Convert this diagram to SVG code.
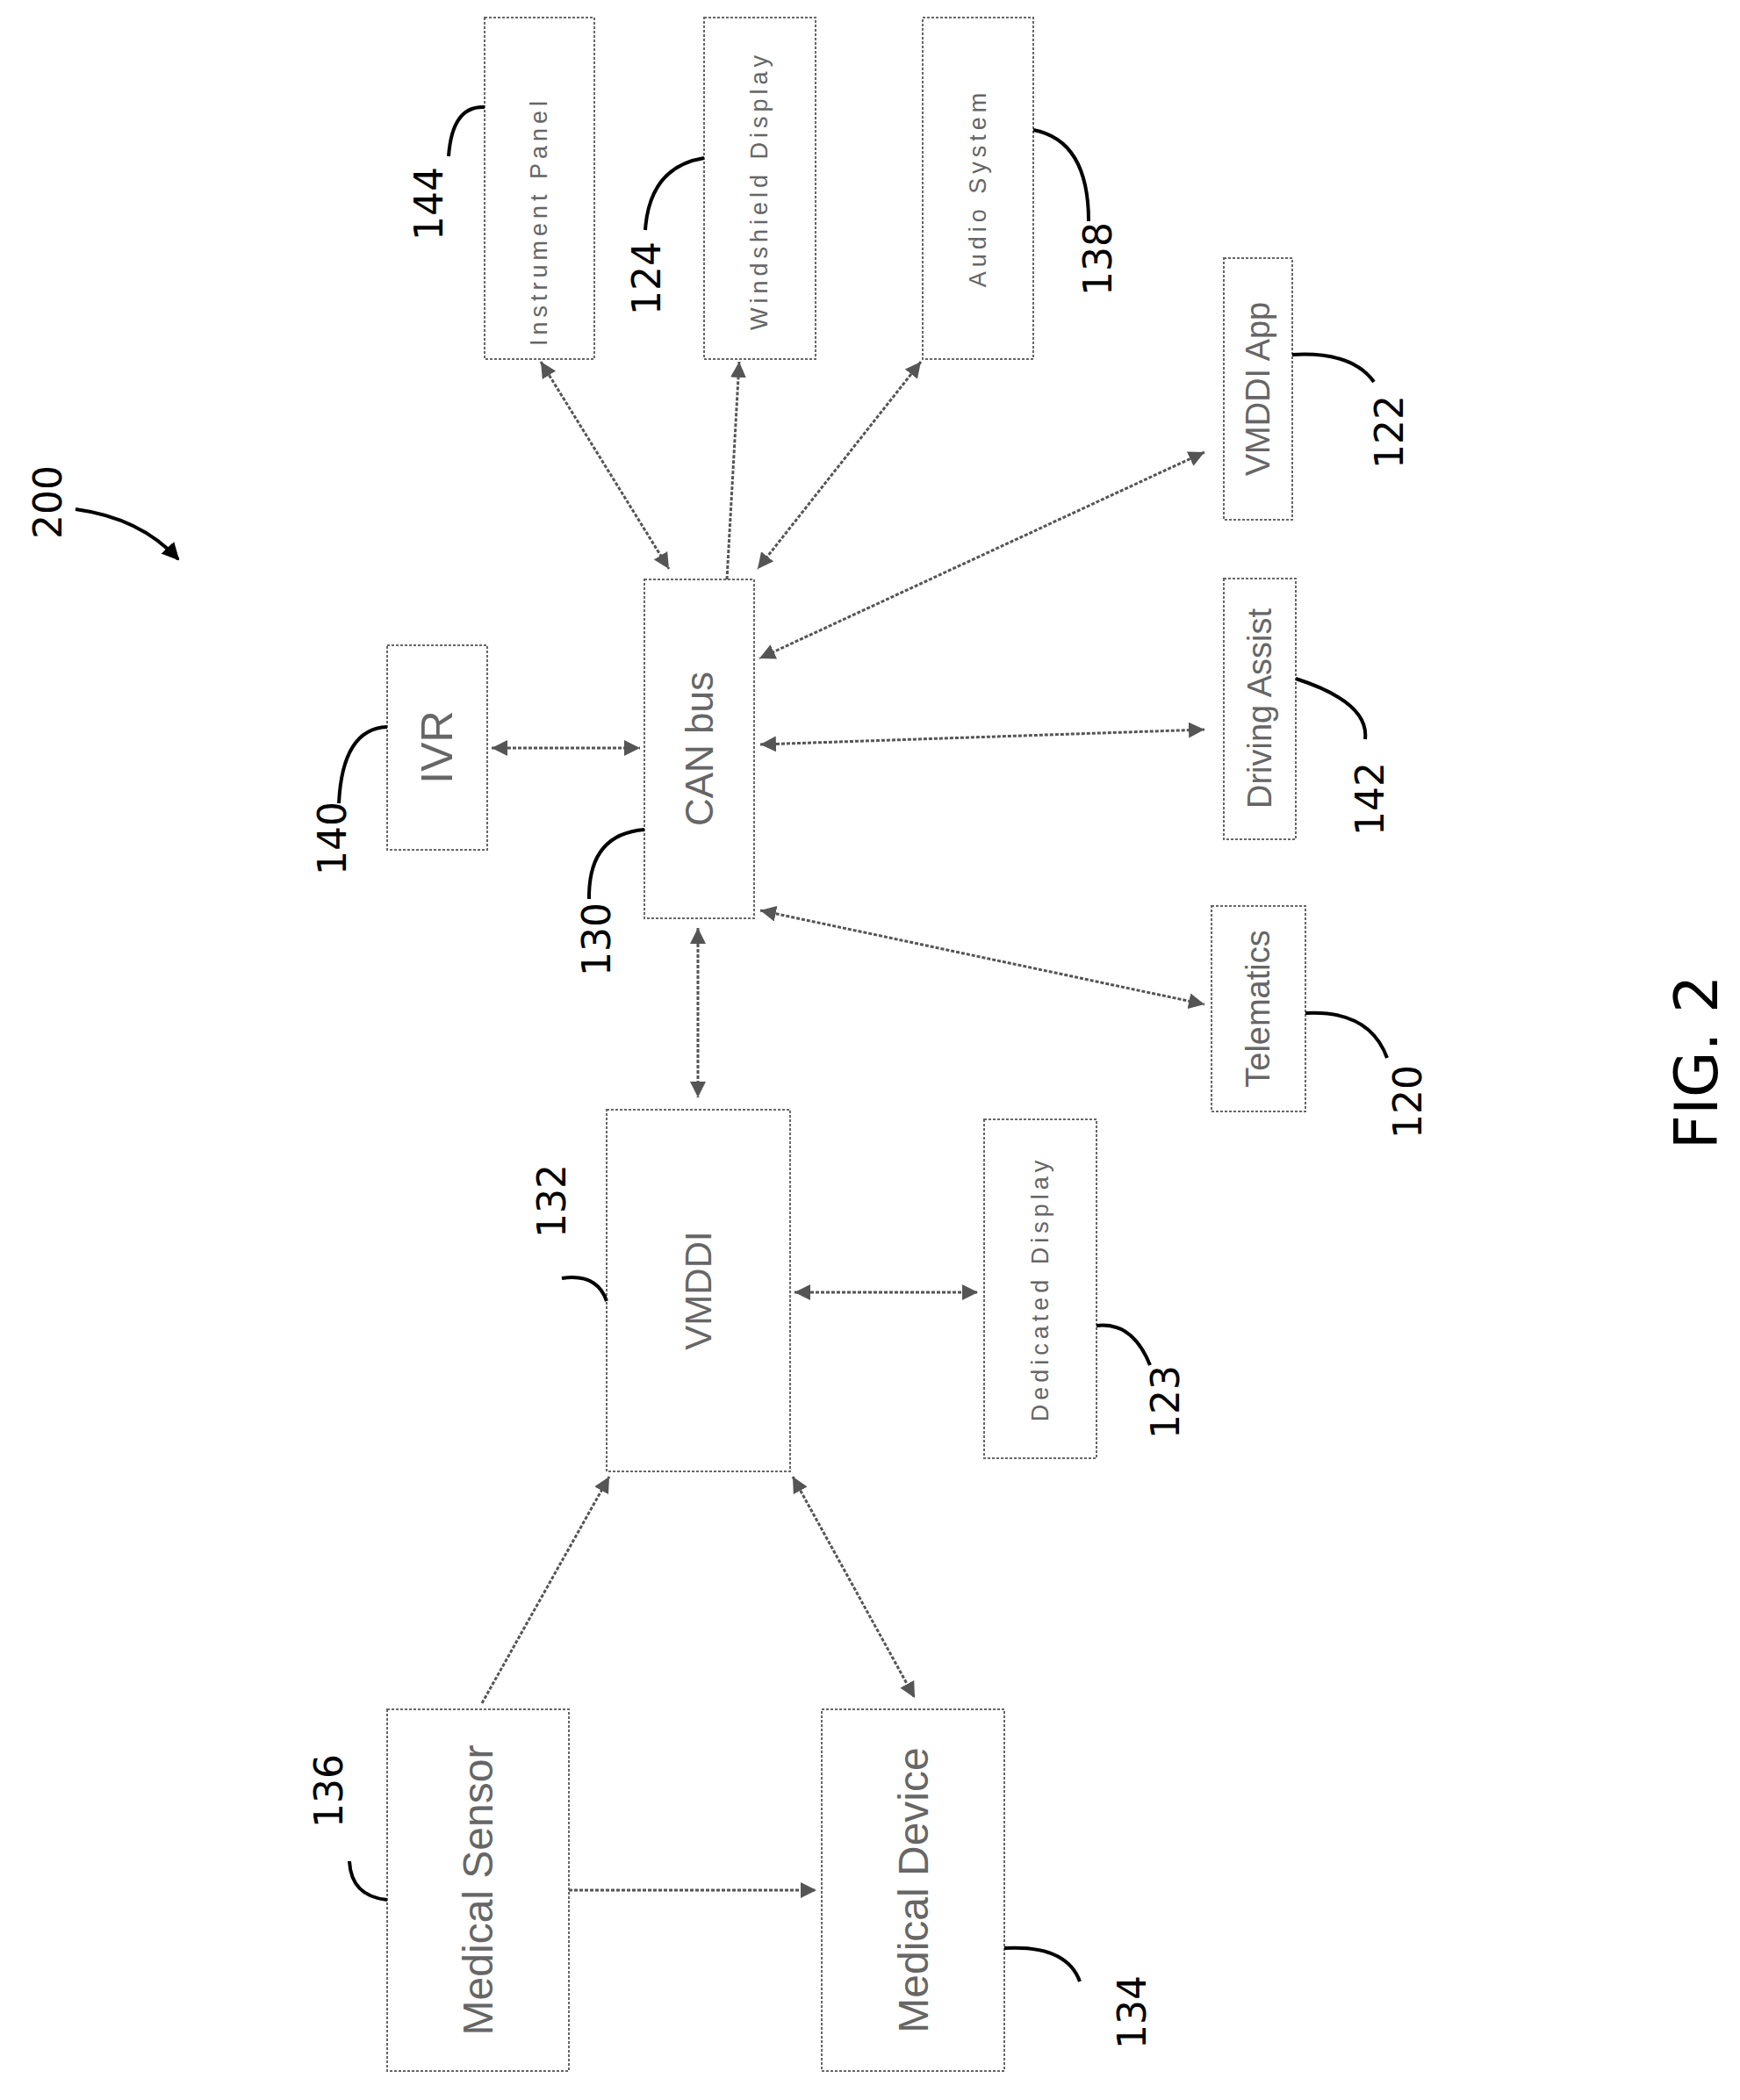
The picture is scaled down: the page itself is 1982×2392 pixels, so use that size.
<svg xmlns="http://www.w3.org/2000/svg" width="1982" height="2392" viewBox="0 0 1982 2392">
<style>
.box{fill:#fff;stroke:#666;stroke-width:2;stroke-dasharray:3 2}
.t{font-family:"Liberation Sans",Arial,sans-serif;fill:#666;text-anchor:middle;dominant-baseline:central}
.s{font-size:27px;letter-spacing:5px}
.n{font-family:"DejaVu Sans",sans-serif;font-size:44px;fill:#000;text-anchor:middle;dominant-baseline:central}
.c{stroke:#555;stroke-width:3;stroke-dasharray:4 2;fill:none}
.ld{stroke:#000;stroke-width:4;fill:none}
</style>
<defs>
<marker id="a" viewBox="0 0 10 10" refX="10" refY="5" markerWidth="6" markerHeight="6" orient="auto-start-reverse"><path d="M0,0 L10,5 L0,10 Z" fill="#555"/></marker>
<marker id="b" viewBox="0 0 10 10" refX="9" refY="5" markerWidth="5" markerHeight="5" orient="auto"><path d="M0,0 L10,5 L0,10 Z" fill="#000"/></marker>
</defs>
<g id="n144"><rect class="box" x="552" y="20" width="125" height="389"/><text class="t s" transform="translate(614,252) rotate(-90)">Instrument Panel</text></g>
<g id="n124"><rect class="box" x="802" y="20" width="127" height="389"/><text class="t s" transform="translate(865,217) rotate(-90)">Windshield Display</text></g>
<g id="n138"><rect class="box" x="1051" y="20" width="126" height="389"/><text class="t s" transform="translate(1114,214) rotate(-90)">Audio System</text></g>
<g id="n122"><rect class="box" x="1394" y="294" width="78" height="298"/><text class="t" font-size="38" transform="translate(1433,443) rotate(-90)">VMDDI App</text></g>
<g id="n140"><rect class="box" x="441" y="735" width="114" height="233"/><text class="t" font-size="50" transform="translate(498,851) rotate(-90)">IVR</text></g>
<g id="n130"><rect class="box" x="734" y="660" width="125" height="386"/><text class="t" font-size="44" transform="translate(796,853) rotate(-90)">CAN bus</text></g>
<g id="n142"><rect class="box" x="1394" y="659" width="82" height="297"/><text class="t" font-size="38" transform="translate(1435,807) rotate(-90)">Driving Assist</text></g>
<g id="n120"><rect class="box" x="1380" y="1032" width="107" height="234"/><text class="t" font-size="38" transform="translate(1433,1149) rotate(-90)">Telematics</text></g>
<g id="n132"><rect class="box" x="691" y="1264" width="209" height="412"/><text class="t" font-size="42" transform="translate(795,1470) rotate(-90)">VMDDI</text></g>
<g id="n123"><rect class="box" x="1121" y="1275" width="128" height="386"/><text class="t s" transform="translate(1185,1468) rotate(-90)">Dedicated Display</text></g>
<g id="n136"><rect class="box" x="441" y="1947" width="207" height="412"/><text class="t" font-size="48" transform="translate(544,2153) rotate(-90)">Medical Sensor</text></g>
<g id="n134"><rect class="box" x="936" y="1947" width="208" height="412"/><text class="t" font-size="48" transform="translate(1040,2153) rotate(-90)">Medical Device</text></g>
<g id="connectors">
<path class="c" d="M616,412 L762,648" marker-start="url(#a)" marker-end="url(#a)"/>
<path class="c" d="M828,660 L842,412" marker-end="url(#a)"/>
<path class="c" d="M1049,412 L863,648" marker-start="url(#a)" marker-end="url(#a)"/>
<path class="c" d="M1372,515 L865,750" marker-start="url(#a)" marker-end="url(#a)"/>
<path class="c" d="M560,852 L729,852" marker-start="url(#a)" marker-end="url(#a)"/>
<path class="c" d="M866,848 L1372,831" marker-start="url(#a)" marker-end="url(#a)"/>
<path class="c" d="M866,1037 L1372,1144" marker-start="url(#a)" marker-end="url(#a)"/>
<path class="c" d="M795,1057 L795,1250" marker-start="url(#a)" marker-end="url(#a)"/>
<path class="c" d="M905,1472 L1114,1472" marker-start="url(#a)" marker-end="url(#a)"/>
<path class="c" d="M549,1940 L694,1682" marker-end="url(#a)"/>
<path class="c" d="M903,1682 L1042,1934" marker-start="url(#a)" marker-end="url(#a)"/>
<path class="c" d="M648,2153 L930,2153" marker-end="url(#a)"/>
</g>
<g id="labels">
<text class="n" transform="translate(54,572) rotate(-90)">200</text>
<path class="ld" d="M86,580 Q160,590 203,637" marker-end="url(#b)"/>
<text class="n" transform="translate(488,232) rotate(-90)">144</text>
<path class="ld" d="M511,178 Q515,120 552,122"/>
<text class="n" transform="translate(736,317) rotate(-90)">124</text>
<path class="ld" d="M735,262 Q740,190 802,180"/>
<text class="n" transform="translate(1250,295) rotate(-90)">138</text>
<path class="ld" d="M1177,148 Q1240,160 1240,252"/>
<text class="n" transform="translate(1582,492) rotate(-90)">122</text>
<path class="ld" d="M1472,404 Q1540,400 1565,435"/>
<text class="n" transform="translate(1560,910) rotate(-90)">142</text>
<path class="ld" d="M1476,773 Q1560,800 1555,842"/>
<text class="n" transform="translate(1603,1255) rotate(-90)">120</text>
<path class="ld" d="M1487,1154 Q1560,1150 1580,1205"/>
<text class="n" transform="translate(378,955) rotate(-90)">140</text>
<path class="ld" d="M386,915 Q390,830 441,828"/>
<text class="n" transform="translate(679,1070) rotate(-90)">130</text>
<path class="ld" d="M671,1024 Q670,950 734,945"/>
<text class="n" transform="translate(628,1368) rotate(-90)">132</text>
<path class="ld" d="M691,1482 Q680,1450 640,1456"/>
<text class="n" transform="translate(1327,1597) rotate(-90)">123</text>
<path class="ld" d="M1249,1510 Q1290,1505 1310,1555"/>
<text class="n" transform="translate(374,2040) rotate(-90)">136</text>
<path class="ld" d="M441,2164 Q400,2160 398,2120"/>
<text class="n" transform="translate(1289,2292) rotate(-90)">134</text>
<path class="ld" d="M1144,2219 Q1215,2215 1230,2257"/>
<text class="n" font-size="62" font-family="Liberation Sans, sans-serif" transform="translate(1932,1210) rotate(-90)" style="font-size:68px">FIG. 2</text>
</g>
</svg>
